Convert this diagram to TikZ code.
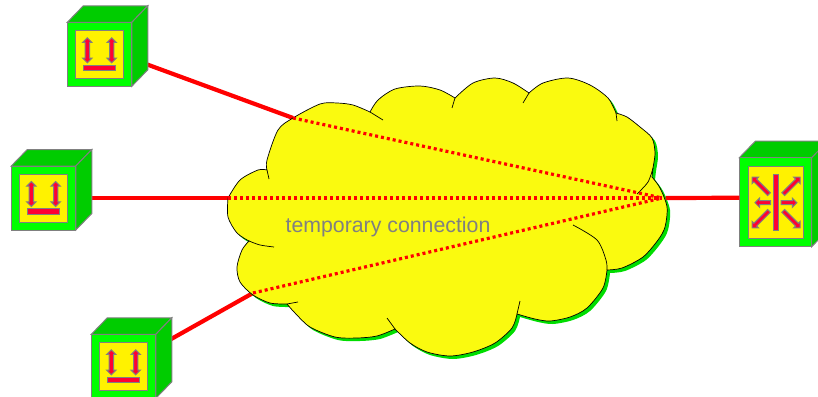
\documentclass[tikz,border=0pt]{standalone}
\usepackage{fontspec}
\setmainfont{Liberation Sans}
\usetikzlibrary{shapes.arrows,backgrounds}
\definecolor{boxgreen}{RGB}{0,255,0}
\definecolor{sidegreen}{RGB}{0,204,0}
\definecolor{shadowgreen}{RGB}{0,221,0}
\definecolor{cloudyellow}{RGB}{250,250,15}
\definecolor{linkred}{RGB}{255,0,0}
\definecolor{glyphred}{RGB}{255,0,51}
\tikzset{
  rim/.style = {draw=gray,line width=1pt},
  faceplate/.style = {rim,fill=boxgreen,anchor=north west,inner sep=0pt,outer sep=0pt},
  panel/.style = {rim,fill=yellow,anchor=north west,inner sep=0pt,outer sep=0pt},
  updown/.style = {double arrow,rim,fill=glyphred,rotate=90,inner sep=1.7pt,minimum height=25pt,minimum width=8pt,double arrow head extend=2.4pt},
  ray/.style = {single arrow,rim,fill=glyphred,inner sep=1.5pt,minimum width=8pt,single arrow head extend=2.6pt},
  bar/.style = {rim,fill=glyphred,inner sep=0pt,outer sep=0pt},
  link/.style = {linkred,line width=4.2pt},
  tunnel/.style = {linkred,line width=3.2pt,dash pattern=on 3pt off 3pt},
  edgeline/.style = {black,line width=0.7pt}
}
% sides of a box: name, corner of front, width, height
\newcommand{\boxbody}[4]{
  \begin{scope}[shift={(#2)}]
    \filldraw[rim,fill=sidegreen] (0,0) -- (16,-16.5) -- (#3+16,-16.5) -- (#3,0) -- cycle;
    \filldraw[rim,fill=sidegreen] (#3,0) -- (#3+16,-16.5) -- (#3+16,#4-16.5) -- (#3,#4) -- cycle;
    \node [faceplate,minimum width=#3pt,minimum height=#4pt] (#1) at (0,0) {};
  \end{scope}
}
\newcommand{\terminal}[2]{
  \boxbody{#1}{#2}{64.5}{64}
  \begin{scope}[shift={(#2)}]
    \node [panel,minimum width=47.5pt,minimum height=47.5pt] (#1 panel) at (8.5,8.5) {};
    \node [updown] (#1 left) at (20,28) {};
    \node [updown] (#1 right) at (44.4,28) {};
    \node [bar,minimum width=32.4pt,minimum height=5.7pt,anchor=north west] (#1 bar) at (16,42.7) {};
  \end{scope}
}
\newcommand{\cloudoutline}{
  plot[smooth] coordinates {(228,198) (240,180) (258,170) (267,170)}
  -- plot[smooth] coordinates {(267,170) (267,160) (278,130) (293,118) (320,104) (337,103) (353,105) (370,112)}
  -- plot[smooth] coordinates {(370,112) (378,100) (395,89) (420,86) (440,90) (455,98)}
  -- plot[smooth] coordinates {(455,98) (473,83) (495,78) (513,83) (529,93)}
  -- plot[smooth] coordinates {(529,93) (543,83) (568,78) (590,85) (608,98) (616,113)}
  -- plot[smooth] coordinates {(616,113) (627,117) (640,127) (652,138) (655,153) (653,168) (652,177)}
  -- plot[smooth] coordinates {(652,177) (660,188) (667,207) (665,227) (658,240) (643,257) (622,268) (607,270)}
  -- plot[smooth] coordinates {(607,270) (603,288) (587,308) (570,317) (550,321) (535,319) (517,314)}
  -- plot[smooth] coordinates {(517,314) (512,328) (495,343) (473,352) (450,356) (427,352) (410,343) (395,329)}
  -- plot[smooth] coordinates {(395,329) (377,336) (357,338) (335,337) (310,327) (295,313) (287,304)}
  -- plot[smooth] coordinates {(287,304) (270,303) (253,295) (240,282) (237,267) (242,250) (249,241)}
  -- plot[smooth] coordinates {(249,241) (237,233) (228,217) (228,198)}
}
\begin{document}
\begin{tikzpicture}[x=1pt,y=-1pt]
  \useasboundingbox (0,0) rectangle (818,396);

  % cloud
  \fill[shadowgreen,shift={(3,3)}] \cloudoutline -- cycle;
  \filldraw[edgeline,fill=cloudyellow] \cloudoutline -- cycle;
  \draw[edgeline] plot[smooth] coordinates {(267,170) (269,179)};
  \draw[edgeline] plot[smooth] coordinates {(370,112) (383,120)};
  \draw[edgeline] plot[smooth] coordinates {(455,98) (452,108)};
  \draw[edgeline] plot[smooth] coordinates {(529,93) (523,103)};
  \draw[edgeline] plot[smooth] coordinates {(616,113) (617,121)};
  \draw[edgeline] plot[smooth] coordinates {(653,168) (648,182) (637,194)};
  \draw[edgeline] plot[smooth] coordinates {(607,270) (606,260) (597,240) (573,225)};
  \draw[edgeline] plot[smooth] coordinates {(517,314) (520,301)};
  \draw[edgeline] plot[smooth] coordinates {(395,329) (387,318)};
  \draw[edgeline] plot[smooth] coordinates {(287,304) (298,302)};
  \draw[edgeline] plot[smooth] coordinates {(249,241) (260,245) (274,247)};

  \coordinate (entry1) at (293,118);
  \coordinate (entry2) at (228,198);
  \coordinate (entry3) at (253,293);
  \coordinate (hub) at (662,198);
  \coordinate (exit) at (665.5,198);

  \node [text=gray,font=\fontsize{21.3}{24}\selectfont] (label) at (388,226.5) {temporary connection};

  % boxes
  \terminal{term1}{67.3,22.3}
  \terminal{term2}{11.3,166}
  \terminal{term3}{91.3,334.3}

  \boxbody{switch}{739.3,157.7}{72.4}{89}
  \begin{scope}[shift={(739.3,157.7)}]
    \node [panel,minimum width=55pt,minimum height=71.6pt] (switch panel) at (9,9) {};
    \node [bar,minimum width=5pt,minimum height=56.4pt] (switch bar) at (36.5,44.7) {};
    \foreach \px/\py/\ang/\len in {21.9/28.7/135/24, 51.7/28.7/45/24, 24.5/45/180/15.7, 48.7/45/0/15.7, 21.9/61/225/24, 51.7/61/315/24}
      \node [ray,rotate=\ang,minimum height=\len pt] (switch ray \ang) at (\px,\py) {};
  \end{scope}

  % connections
  \begin{scope}[on background layer]
    \draw[link] (term1.-8.6) -- (entry1);
    \draw[link] (term2.east) -- (entry2);
    \draw[link] (term3.30) -- (entry3);
  \end{scope}
  \draw[link] (exit) -- (switch.173.4);
  \draw[tunnel] (entry1) -- (hub);
  \draw[tunnel] (entry2) -- (hub);
  \draw[tunnel] (entry3) -- (hub);
\end{tikzpicture}
\end{document}
